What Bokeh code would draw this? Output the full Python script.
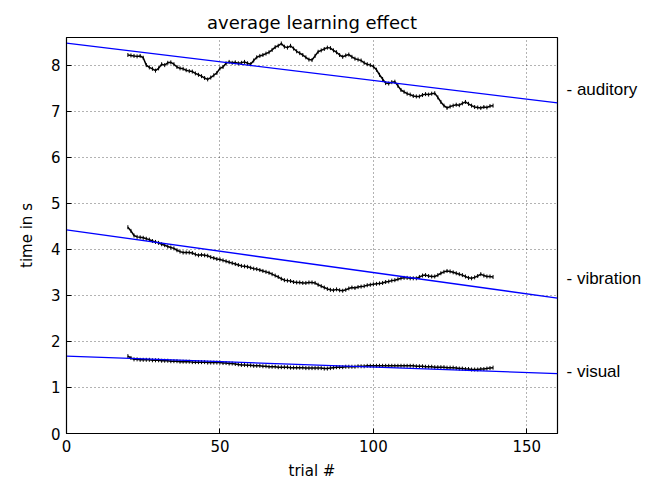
import numpy as np
from bokeh.plotting import figure
from bokeh.models import LinearAxis, FixedTicker, Range1d
from bokeh.embed import file_html
from bokeh.resources import INLINE

trials = list(range(20, 140))

auditory = [8.22, 8.21, 8.20, 8.19, 8.20, 8.16, 8.00, 7.95, 7.92, 7.88,
            7.93, 8.02, 8.00, 8.05, 8.06, 8.02, 7.96, 7.93, 7.92, 7.89,
            7.87, 7.86, 7.82, 7.79, 7.76, 7.72, 7.69, 7.73, 7.78, 7.83,
            7.93, 7.96, 8.04, 8.07, 8.05, 8.06, 8.04, 8.05, 8.07, 8.04,
            8.02, 8.10, 8.17, 8.20, 8.22, 8.25, 8.28, 8.33, 8.39, 8.42,
            8.47, 8.40, 8.38, 8.42, 8.36, 8.30, 8.26, 8.22, 8.17, 8.12,
            8.11, 8.20, 8.29, 8.32, 8.35, 8.38, 8.37, 8.32, 8.28, 8.22,
            8.18, 8.21, 8.23, 8.18, 8.14, 8.12, 8.10, 8.05, 8.02, 8.00,
            7.97, 7.90, 7.79, 7.70, 7.61, 7.60, 7.63, 7.64, 7.55, 7.46,
            7.42, 7.38, 7.36, 7.33, 7.32, 7.32, 7.35, 7.37, 7.36, 7.38,
            7.39, 7.30, 7.20, 7.12, 7.07, 7.10, 7.12, 7.14, 7.13, 7.17,
            7.20, 7.16, 7.12, 7.09, 7.08, 7.07, 7.09, 7.08, 7.11, 7.12]

vibration = [4.48, 4.40, 4.30, 4.27, 4.26, 4.25, 4.23, 4.21, 4.18, 4.16,
             4.14, 4.11, 4.09, 4.06, 4.04, 4.02, 3.98, 3.95, 3.93, 3.93,
             3.93, 3.92, 3.89, 3.87, 3.88, 3.87, 3.86, 3.83, 3.81, 3.79,
             3.78, 3.76, 3.74, 3.72, 3.70, 3.68, 3.66, 3.64, 3.63, 3.62,
             3.60, 3.58, 3.57, 3.55, 3.53, 3.51, 3.49, 3.46, 3.43, 3.40,
             3.36, 3.33, 3.32, 3.31, 3.29, 3.28, 3.28, 3.27, 3.27, 3.28,
             3.28, 3.27, 3.23, 3.20, 3.17, 3.14, 3.12, 3.11, 3.13, 3.11,
             3.10, 3.12, 3.15, 3.17, 3.16, 3.18, 3.19, 3.20, 3.22, 3.23,
             3.24, 3.25, 3.26, 3.27, 3.29, 3.30, 3.32, 3.33, 3.35, 3.37,
             3.38, 3.38, 3.37, 3.37, 3.37, 3.40, 3.43, 3.44, 3.42, 3.41,
             3.41, 3.44, 3.48, 3.51, 3.53, 3.52, 3.50, 3.48, 3.46, 3.44,
             3.41, 3.38, 3.37, 3.39, 3.42, 3.46, 3.43, 3.41, 3.41, 3.40]

visual = [1.68, 1.64, 1.61, 1.61, 1.60, 1.60, 1.60, 1.60, 1.59, 1.59,
          1.59, 1.58, 1.58, 1.58, 1.57, 1.57, 1.57, 1.56, 1.56, 1.56,
          1.56, 1.55, 1.55, 1.55, 1.55, 1.55, 1.54, 1.54, 1.54, 1.54,
          1.54, 1.53, 1.53, 1.52, 1.52, 1.51, 1.50, 1.49, 1.49, 1.48,
          1.48, 1.47, 1.47, 1.47, 1.46, 1.46, 1.45, 1.45, 1.45, 1.44,
          1.44, 1.44, 1.44, 1.43, 1.43, 1.43, 1.43, 1.43, 1.42, 1.42,
          1.42, 1.42, 1.42, 1.42, 1.41, 1.41, 1.42, 1.43, 1.44, 1.44,
          1.44, 1.45, 1.45, 1.45, 1.45, 1.46, 1.46, 1.46, 1.47, 1.47,
          1.47, 1.47, 1.47, 1.47, 1.47, 1.47, 1.47, 1.47, 1.47, 1.47,
          1.47, 1.47, 1.47, 1.47, 1.46, 1.46, 1.46, 1.45, 1.45, 1.45,
          1.44, 1.44, 1.44, 1.44, 1.43, 1.43, 1.43, 1.42, 1.41, 1.41,
          1.40, 1.40, 1.39, 1.39, 1.39, 1.40, 1.40, 1.41, 1.42, 1.43]

fit_x = [0, 160]
auditory_fit = [8.48, 7.18]
vibration_fit = [4.42, 2.94]
visual_fit = [1.68, 1.30]

label_pos = [7.46, 3.36, 1.34]
label_text = ["- auditory", "- vibration", "- visual"]

x_ticks = [0, 50, 100, 150]
y_ticks = [0, 1, 2, 3, 4, 5, 6, 7, 8]

FONT = "DejaVu Sans"

p = figure(width=671, height=485, output_backend="svg", toolbar_location=None,
           x_range=Range1d(0, 160), y_range=Range1d(0, 8.6),
           min_border_left=66, min_border_right=114, min_border_top=37,
           min_border_bottom=52, title="average learning effect")

p.title.text_font = FONT
p.title.text_font_size = "18px"
p.title.text_font_style = "normal"
p.title.align = "center"
p.title.text_color = "black"
p.title.offset = -2

p.outline_line_color = "black"
p.outline_line_width = 1.2
p.background_fill_color = "white"
p.border_fill_color = "white"

for ax in (p.xaxis[0], p.yaxis[0]):
    ax.major_label_text_font = FONT
    ax.major_label_text_font_size = "15px"
    ax.major_label_text_color = "black"
    ax.axis_label_text_font = FONT
    ax.axis_label_text_font_size = "15px"
    ax.axis_label_text_font_style = "normal"
    ax.axis_label_text_color = "black"
    ax.major_tick_in = 5
    ax.major_tick_out = 0
    ax.minor_tick_line_color = None
    ax.axis_line_color = "black"
    ax.major_tick_line_color = "black"

p.xaxis[0].ticker = FixedTicker(ticks=x_ticks)
p.yaxis[0].ticker = FixedTicker(ticks=y_ticks)
p.xaxis[0].axis_label = "trial #"
p.yaxis[0].axis_label = "time in s"
p.xaxis[0].major_label_standoff = 6
p.xaxis[0].axis_label_standoff = 7
p.yaxis[0].major_label_standoff = 6
p.yaxis[0].axis_label_standoff = 12

p.grid.grid_line_color = "black"
p.grid.grid_line_alpha = 0.6
p.grid.grid_line_dash = "1 3"
p.grid.grid_line_width = 1

right = LinearAxis(ticker=FixedTicker(ticks=label_pos),
                   major_label_overrides={v: t for v, t in zip(label_pos, label_text)})
right.axis_line_color = None
right.major_tick_line_color = None
right.minor_tick_line_color = None
right.major_tick_out = 0
right.major_tick_in = 0
right.major_label_standoff = 9
right.major_label_text_font = "Liberation Sans"
right.major_label_text_font_size = "17px"
right.major_label_text_color = "black"
p.add_layout(right, "right")

for series in (auditory, vibration, visual):
    p.line(trials, series, line_color="black", line_width=1.5)
    p.scatter(trials, series, marker="dash", angle=np.pi / 2, size=4,
              line_color="black", line_width=1)

for fit in (auditory_fit, vibration_fit, visual_fit):
    p.line(fit_x, fit, line_color="blue", line_width=1.3)

open("out.html", "w").write(file_html(p, INLINE))
